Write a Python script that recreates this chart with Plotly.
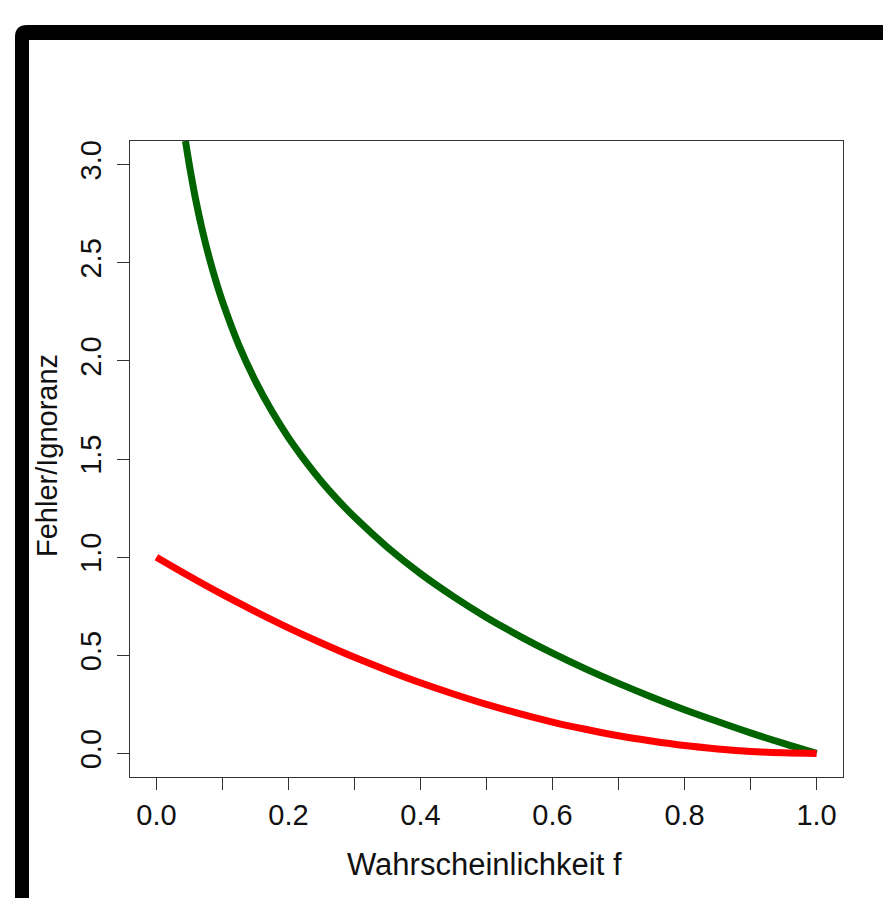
import plotly.graph_objects as go

# ---- data ----
f_green = [0.044, 0.05, 0.06, 0.07, 0.08, 0.09, 0.10, 0.125, 0.15, 0.175, 0.20,
           0.225, 0.25, 0.275, 0.30, 0.35, 0.40, 0.45, 0.50, 0.55, 0.60, 0.65,
           0.70, 0.75, 0.80, 0.85, 0.90, 0.95, 1.00]
ignoranz = [3.120, 2.996, 2.813, 2.659, 2.526, 2.408, 2.303, 2.079, 1.897, 1.743, 1.609,
            1.492, 1.386, 1.291, 1.204, 1.050, 0.916, 0.799, 0.693, 0.598, 0.511, 0.431,
            0.357, 0.288, 0.223, 0.163, 0.105, 0.051, 0.000]

f_red = [0.00, 0.05, 0.10, 0.15, 0.20, 0.25, 0.30, 0.35, 0.40, 0.45, 0.50, 0.55,
         0.60, 0.65, 0.70, 0.75, 0.80, 0.85, 0.90, 0.95, 1.00]
fehler = [1.000, 0.903, 0.810, 0.723, 0.640, 0.563, 0.490, 0.423, 0.360, 0.303, 0.250,
          0.203, 0.160, 0.123, 0.090, 0.063, 0.040, 0.023, 0.010, 0.003, 0.000]

x_tickvals = [0.0, 0.1, 0.2, 0.3, 0.4, 0.5, 0.6, 0.7, 0.8, 0.9, 1.0]
x_ticktext = ["0.0", "", "0.2", "", "0.4", "", "0.6", "", "0.8", "", "1.0"]
y_tickvals = [0.0, 0.5, 1.0, 1.5, 2.0, 2.5, 3.0]
y_ticktext = ["0.0", "0.5", "1.0", "1.5", "2.0", "2.5", "3.0"]

x_title = "Wahrscheinlichkeit f"
y_title = "Fehler/Ignoranz"

# ---- figure (page body has an 8px margin, so shift everything by 8) ----
OFF = 8
W, H = 891 - OFF, 898 - OFF
L, R, T, B = 130 - OFF, 843 - OFF, 141 - OFF, 777 - OFF
FONT = "Liberation Sans, Arial, sans-serif"

fig = go.Figure()
fig.add_trace(go.Scatter(x=f_green, y=ignoranz, mode="lines",
                         line=dict(color="#006400", width=7, shape="spline",
                                   smoothing=1.0),
                         showlegend=False, hoverinfo="skip"))
fig.add_trace(go.Scatter(x=f_red, y=fehler, mode="lines",
                         line=dict(color="#ff0000", width=7, shape="spline",
                                   smoothing=1.0),
                         showlegend=False, hoverinfo="skip"))

def px(x):
    return (x - OFF - L) / (R - L)

def py(y):
    return (B - (y - OFF)) / (B - T)

# black rounded frame (top and left visible)
path = (f"M {px(15)},{py(910)} L {px(15)},{py(37)} "
        f"Q {px(15)},{py(25)} {px(27)},{py(25)} "
        f"L {px(910)},{py(25)} L {px(910)},{py(40)} "
        f"L {px(29)},{py(40)} L {px(29)},{py(910)} Z")
fig.add_shape(type="path", xref="paper", yref="paper", path=path,
              fillcolor="black", line=dict(width=0), layer="above")

axis_common = dict(showgrid=False, zeroline=False, showline=True, mirror=True,
                   linecolor="#333333", linewidth=1.2, ticks="outside",
                   ticklen=12, tickwidth=1.2, tickcolor="#333333",
                   tickfont=dict(family=FONT, size=29, color="#111111"))

fig.update_xaxes(range=[-0.04, 1.04], tickmode="array", tickvals=x_tickvals,
                 ticktext=x_ticktext, **axis_common)
fig.update_yaxes(range=[-0.12, 3.12], tickmode="array", tickvals=y_tickvals,
                 ticktext=y_ticktext, tickangle=-90, ticklabelstandoff=4,
                 **axis_common)

fig.add_annotation(text=x_title, xref="paper", yref="paper",
                   x=px(484), y=py(864), showarrow=False,
                   xanchor="center", yanchor="middle",
                   font=dict(family=FONT, size=31, color="#111111"))
fig.add_annotation(text=y_title, xref="paper", yref="paper",
                   x=px(47), y=py(456), showarrow=False, textangle=-90,
                   xanchor="center", yanchor="middle",
                   font=dict(family=FONT, size=29, color="#111111"))

fig.update_layout(width=W, height=H, margin=dict(l=L, r=W - R, t=T, b=H - B),
                  paper_bgcolor="white", plot_bgcolor="white")

fig.write_html("out.html")
